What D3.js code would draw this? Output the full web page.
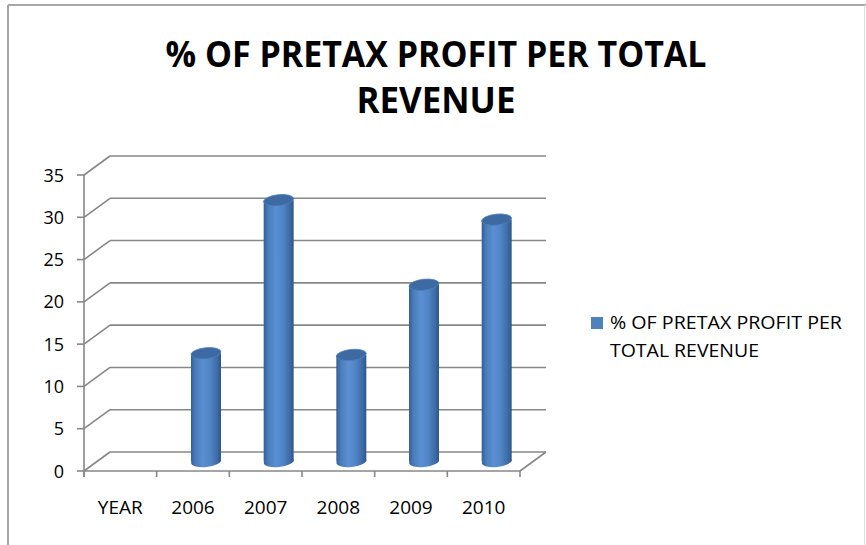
<!DOCTYPE html>
<html>
<head>
<meta charset="utf-8">
<script src="https://cdn.jsdelivr.net/npm/d3@7"></script>
<style>
  body { margin: 0; background: #fff; }
  svg { display: block; font-family: "Open Sans", sans-serif; }
</style>
</head>
<body>
<svg id="chart" width="866" height="545"></svg>
<script>
// chart data
const categories = ["YEAR", "2006", "2007", "2008", "2009", "2010"];
const values = [null, 12.8, 30.9, 12.6, 20.9, 28.6];
const yTicks = [0, 5, 10, 15, 20, 25, 30, 35];
const titleLines = ["% OF PRETAX PROFIT PER TOTAL", "REVENUE"];
const legendLines = ["% OF PRETAX PROFIT PER", "TOTAL REVENUE"];

const svg = d3.select("#chart");

// depth offset of the 3d box
const depth = { dx: 26, dy: -19 };
const gridColor = "#878787";

const x = d3.scaleBand()
    .domain(categories)
    .range([84, 520])
    .padding(0);

const y = d3.scaleLinear()
    .domain([0, 35])
    .range([471, 175]);

// outer chart border (bottom is cut off)
svg.append("line").attr("x1", 8).attr("y1", 5).attr("x2", 866).attr("y2", 5)
    .attr("stroke", "#a6a6a6").attr("stroke-width", 2);
svg.append("line").attr("x1", 8).attr("y1", 5).attr("x2", 8).attr("y2", 545)
    .attr("stroke", "#a6a6a6").attr("stroke-width", 2);
svg.append("line").attr("x1", 864.5).attr("y1", 5).attr("x2", 864.5).attr("y2", 545)
    .attr("stroke", "#dcdcdc").attr("stroke-width", 1);

// title
svg.append("g")
    .selectAll("text")
    .data(titleLines)
    .join("text")
    .attr("x", 436)
    .attr("y", (d, i) => 67 + i * 46)
    .attr("text-anchor", "middle")
    .style("font-size", "35px")
    .style("font-weight", "700")
    .attr("textLength", (d, i) => i === 0 ? 541 : 159)
    .attr("lengthAdjust", "spacingAndGlyphs")
    .attr("fill", "#000")
    .text(d => d);

const x0 = x.range()[0];
const x1 = x.range()[1];

// back wall gridlines
const grid = svg.append("g").attr("stroke", gridColor).attr("stroke-width", 1.6).attr("fill", "none");
grid.selectAll(".back")
    .data(yTicks)
    .join("line")
    .attr("x1", x0 + depth.dx)
    .attr("x2", x1 + depth.dx)
    .attr("y1", d => y(d) + depth.dy)
    .attr("y2", d => y(d) + depth.dy);

// side wall diagonals
grid.selectAll(".side")
    .data(yTicks)
    .join("line")
    .attr("x1", x0)
    .attr("x2", x0 + depth.dx)
    .attr("y1", d => y(d))
    .attr("y2", d => y(d) + depth.dy);

// floor right edge
grid.append("line")
    .attr("x1", x1).attr("y1", y(0))
    .attr("x2", x1 + depth.dx).attr("y2", y(0) + depth.dy);

// axes
const axis = svg.append("g").attr("stroke", gridColor).attr("stroke-width", 1.6);
axis.append("line").attr("x1", x0).attr("x2", x0).attr("y1", y(35)).attr("y2", y(0) + 6);
axis.append("line").attr("x1", x0).attr("x2", x1).attr("y1", y(0)).attr("y2", y(0));
axis.selectAll(".ytick")
    .data(yTicks)
    .join("line")
    .attr("x1", x0 - 7).attr("x2", x0)
    .attr("y1", d => y(d)).attr("y2", d => y(d));
axis.selectAll(".xtick")
    .data(categories.map(c => x(c)).concat([x1]))
    .join("line")
    .attr("x1", d => d).attr("x2", d => d)
    .attr("y1", y(0)).attr("y2", y(0) + 6);

// tick labels
svg.append("g")
    .selectAll("text")
    .data(yTicks)
    .join("text")
    .attr("x", 64)
    .attr("y", d => y(d) + 6.5)
    .attr("text-anchor", "end")
    .style("font-size", "18px")
    .attr("fill", "#000")
    .text(d => d);

svg.append("g")
    .selectAll("text")
    .data(categories)
    .join("text")
    .attr("x", d => x(d) + x.bandwidth() / 2)
    .attr("y", 514)
    .attr("text-anchor", "middle")
    .style("font-size", "19px")
    .attr("fill", "#000")
    .text(d => d);

// cylinder shading
const defs = svg.append("defs");
const grad = defs.append("linearGradient")
    .attr("id", "cyl")
    .attr("x1", "0%").attr("x2", "100%").attr("y1", "0%").attr("y2", "0%");
grad.selectAll("stop")
    .data([
        { o: "0%", c: "#345f95" },
        { o: "15%", c: "#4a7dbb" },
        { o: "40%", c: "#5a90d2" },
        { o: "65%", c: "#4f84c5" },
        { o: "88%", c: "#3d6aa3" },
        { o: "100%", c: "#2f5788" }
    ])
    .join("stop")
    .attr("offset", d => d.o)
    .attr("stop-color", d => d.c);

const rx = 15;
const ry = 5.5;
const tilt = -6;

const bars = svg.append("g")
    .selectAll("g")
    .data(categories.map((c, i) => ({ cat: c, value: values[i] })).filter(d => d.value != null))
    .join("g")
    .attr("transform", d => `translate(${x(d.cat) + x.bandwidth() / 2 + depth.dx / 2},0)`);

const baseY = d => y(0) + depth.dy / 2;
const topY = d => y(d.value) + depth.dy / 2;

// bottom cap
bars.append("ellipse")
    .attr("cx", 0)
    .attr("cy", baseY)
    .attr("rx", rx)
    .attr("ry", ry)
    .attr("transform", d => `rotate(${tilt},0,${baseY(d)})`)
    .attr("fill", "url(#cyl)");

// body
bars.append("rect")
    .attr("x", -rx)
    .attr("y", topY)
    .attr("width", rx * 2)
    .attr("height", d => baseY(d) - topY(d))
    .attr("fill", "url(#cyl)");

// top cap
bars.append("ellipse")
    .attr("cx", 0)
    .attr("cy", topY)
    .attr("rx", rx)
    .attr("ry", ry)
    .attr("transform", d => `rotate(${tilt},0,${topY(d)})`)
    .attr("fill", "#3d6aa2")
    .attr("stroke", "#4f7fb9")
    .attr("stroke-width", 0.8);

// legend
const legend = svg.append("g");
legend.append("rect")
    .attr("x", 591).attr("y", 317)
    .attr("width", 12).attr("height", 12)
    .attr("fill", "#4f81bd");
legend.selectAll("text")
    .data(legendLines)
    .join("text")
    .attr("x", 610)
    .attr("y", (d, i) => 329 + i * 28)
    .style("font-size", "17.5px")
    .attr("textLength", (d, i) => i === 0 ? 232 : 149)
    .attr("lengthAdjust", "spacingAndGlyphs")
    .attr("fill", "#000")
    .text(d => d);
</script>
</body>
</html>
